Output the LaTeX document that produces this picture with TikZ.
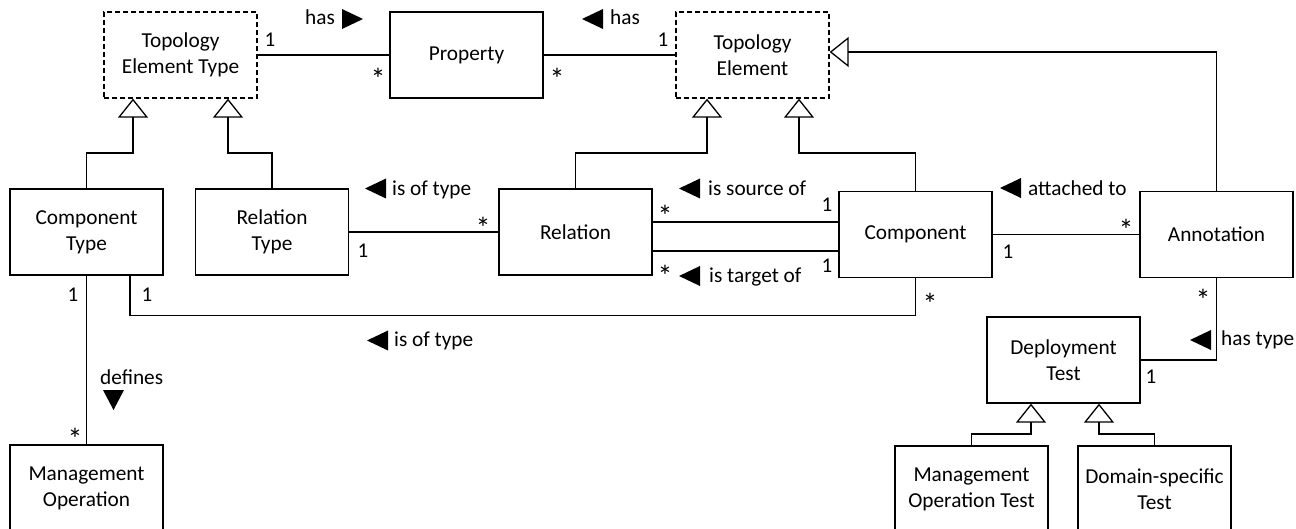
\documentclass[tikz,border=0pt]{standalone}
\usepackage{fontspec}
\setmainfont{Carlito}
\usetikzlibrary{arrows.meta}
\begin{document}
\begin{tikzpicture}[x=1pt,y=-1pt,line width=1.3pt,
  box/.style={draw, minimum width=153pt, minimum height=86pt, align=center, inner sep=0pt, font=\fontsize{21.3}{26}\selectfont},
  abox/.style={box, dash pattern=on 5pt off 3pt},
  gen/.style={-{Triangle[open,length=19pt,width=30pt,line width=1.3pt]}},
  lbl/.style={font=\fontsize{21.3}{26}\selectfont, anchor=base west, inner sep=0pt},
  mult/.style={font=\fontsize{21}{25}\selectfont, anchor=base, inner sep=0pt},
  star/.style={font=\fontsize{30}{30}\selectfont, anchor=north, inner sep=0pt},
  ltri/.pic={\fill (-10.5,0) -- (10.5,-10) -- (10.5,10) -- cycle;},
  rtri/.pic={\fill (10.5,0) -- (-10.5,-10) -- (-10.5,10) -- cycle;},
  dtri/.pic={\fill (0,10) -- (-10.5,-10) -- (10.5,-10) -- cycle;}]
\useasboundingbox (0,0) rectangle (1296,529);
\clip (0,0) rectangle (1296,529);
% boxes
\node[abox] (TET) at (180.5,55) {Topology\\Element Type};
\node[box]  (Prop) at (466.5,55) {Property};
\node[abox] (TE) at (752.5,55) {Topology\\Element};
\node[box]  (CT) at (86.5,232) {Component\\Type};
\node[box]  (RT) at (272,232) {Relation\\Type};
\node[box]  (Rel) at (575.5,232) {Relation};
\node[box]  (Comp) at (915.5,234.5) {Component};
\node[box]  (Ann) at (1216.5,234.5) {Annotation};
\node[box]  (DT) at (1063.5,360) {Deployment\\Test};
\node[box]  (MO) at (86.5,488) {Management\\Operation};
\node[box]  (MOT) at (971.5,489) {Management\\Operation Test};
\node[box]  (DST) at (1154.5,489) {Domain-specific\\Test};
% junctions
\coordinate (g1) at (133,153);
\coordinate (g2) at (228,153);
\coordinate (g3) at (707,153);
\coordinate (g4) at (799,153);
\coordinate (g5) at (1031,434);
\coordinate (g6) at (1099,434);
% generalizations
\draw[gen] (CT.north) |- (g1) -- (g1 |- TET.south);
\draw[gen] (RT.north) |- (g2) -- (g2 |- TET.south);
\draw[gen] (Rel.north) |- (g3) -- (g3 |- TE.south);
\draw[gen] (Comp.north) |- (g4) -- (g4 |- TE.south);
\draw[gen] (Ann.north) |- ([yshift=3pt]TE.east);
\draw[gen] (MOT.north) |- (g5) -- (g5 |- DT.south);
\draw[gen] (DST.north) |- (g6) -- (g6 |- DT.south);
% associations
\draw (TET.east) -- (Prop.west);
\draw (Prop.east) -- (TE.west);
\draw (RT.east) -- (Rel.west);
\draw ([yshift=10pt]Rel.east) -- ([yshift=10pt]Rel.east -| Comp.west);
\draw ([yshift=-19pt]Rel.east) -- ([yshift=-19pt]Rel.east -| Comp.west);
\draw (CT.south) -- (MO.north);
\draw ([xshift=43.5pt]CT.south) -- ++(0,40) -| (Comp.south);
\draw (Comp.east) -- (Ann.west);
\draw (Ann.south) |- (DT.east);
% direction labels
\pic at (352.5,19) {rtri};
\node[lbl] (l1) at (304.5,25) {has};
\pic at (592.5,19) {ltri};
\node[lbl] (l2) at (609.5,25) {has};
\pic at (375.5,188.5) {ltri};
\node[lbl] (l3) at (391.5,196) {is of type};
\pic at (689.5,188.5) {ltri};
\node[lbl] (l4) at (707.5,196) {is source of};
\pic at (689.5,276) {ltri};
\node[lbl] (l5) at (708.5,283) {is target of};
\pic at (1010.5,188) {ltri};
\node[lbl] (l6) at (1027.5,196) {attached to};
\pic at (377.5,340.5) {ltri};
\node[lbl] (l7) at (393.5,346) {is of type};
\pic at (113.5,400) {dtri};
\node[lbl] (l8) at (99.5,384) {defines};
\pic at (1200.5,340) {ltri};
\node[lbl] (l9) at (1220.5,345) {has type};
% multiplicities
\node[mult] (m1) at (270,47) {1};
\node[star] (m2) at (378,68) {*};
\node[star] (m3) at (557,68) {*};
\node[mult] (m4) at (663,47) {1};
\node[mult] (m5) at (363,258) {1};
\node[star] (m6) at (483,217) {*};
\node[star] (m7) at (665,205) {*};
\node[mult] (m8) at (827,212) {1};
\node[star] (m9) at (665,265) {*};
\node[mult] (m10) at (827,273) {1};
\node[mult] (m11) at (1008,259) {1};
\node[star] (m12) at (1126,219) {*};
\node[mult] (m13) at (73,302) {1};
\node[mult] (m14) at (147,302) {1};
\node[star] (m15) at (930,293) {*};
\node[star] (m16) at (75,428) {*};
\node[star] (m17) at (1203,289) {*};
\node[mult] (m18) at (1151,383) {1};
\end{tikzpicture}
\end{document}
